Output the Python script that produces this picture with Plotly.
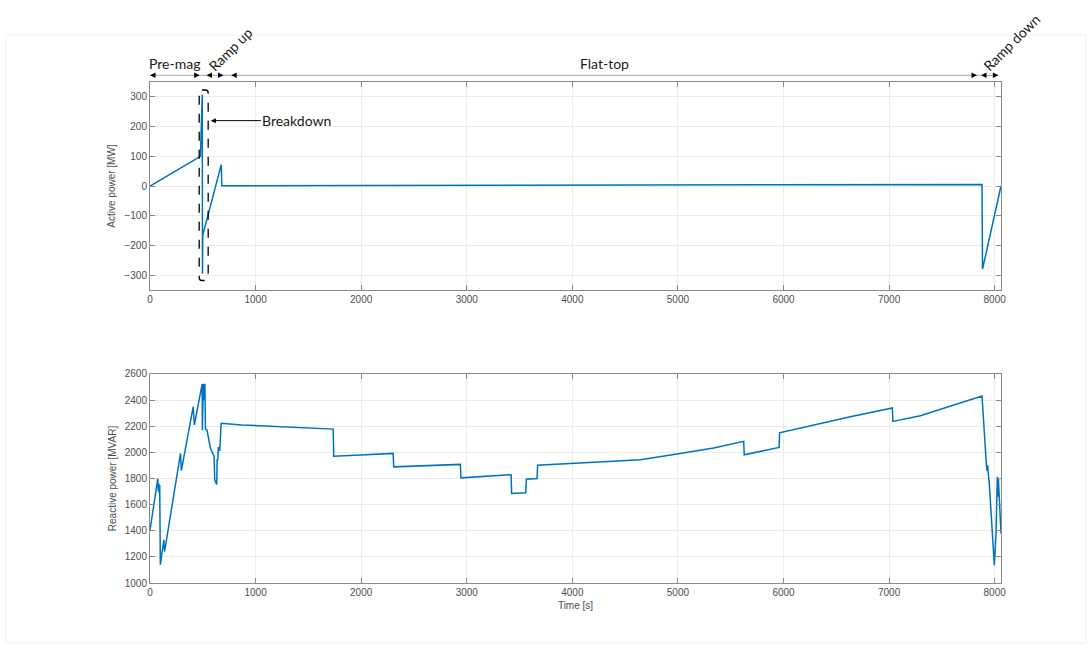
import plotly.graph_objects as go

# ---------------- data ----------------
# Active power (top panel)
t_p = [0, 478, 495, 497, 500, 675, 680, 2000, 4000, 6000, 7880, 7885, 8060]
p_mw = [0, 100, 307, -295, -165, 72, 1, 2, 3, 4, 5, -280, 0]

# Reactive power (bottom panel)
t_q = [0, 74, 79, 84, 88, 92, 98, 131, 138, 188, 289, 297, 409, 420, 494, 496,
       505, 510, 520, 525, 540, 573, 607, 613, 632, 636, 642, 647, 660, 674,
       871, 1735, 1740, 1993, 2303, 2308, 2940, 2945, 3224, 3420, 3425, 3559,
       3564, 3666, 3671, 4171, 4645, 4992, 5339, 5623, 5628, 5958, 5963, 6633,
       7031, 7036, 7296, 7880, 7896, 7921, 7927, 7933, 7950, 7997, 8013, 8025,
       8030, 8035, 8060]
q_mvar = [1404, 1800, 1700, 1760, 1690, 1750, 1140, 1330, 1240, 1480, 1992, 1860,
          2349, 2210, 2523, 2170, 2525, 2400, 2525, 2180, 2170, 2030, 1970, 1790,
          1755, 1950, 1940, 2040, 2010, 2222, 2210, 2178, 1971, 1979, 1992, 1889,
          1908, 1805, 1818, 1829, 1686, 1691, 1795, 1800, 1902, 1923, 1943, 1987,
          2033, 2084, 1981, 2038, 2150, 2273, 2340, 2237, 2280, 2431, 2196, 1915,
          1860, 1900, 1749, 1136, 1379, 1813, 1660, 1800, 1379]

# Phases of the pulse
phase_names = ["Pre-mag", "Ramp up", "Flat-top", "Ramp down"]
phase_start = [0, 536, 769, 7871]
phase_end = [470, 696, 7833, 8035]
phase_rotated = [False, True, False, True]

# Breakdown window
bd_t0, bd_t1 = 466, 551
bd_p0, bd_p1 = -318, 323
bd_label_y = 220

x_ticks = [0, 1000, 2000, 3000, 4000, 5000, 6000, 7000, 8000]
p_ticks = [-300, -200, -100, 0, 100, 200, 300]
q_ticks = [1000, 1200, 1400, 1600, 1800, 2000, 2200, 2400, 2600]

# ---------------- style ----------------
LINE = "#0072BD"
AX = "#8a8a8a"
GRID = "#ebebeb"
TICKFONT = dict(family="Liberation Sans, Arial, sans-serif", size=10, color="#4d4d4d")
TITLEFONT = dict(family="Liberation Sans, Arial, sans-serif", size=10, color="#4d4d4d")
ANNFONT = dict(family="Lato, Open Sans, sans-serif", size=14, color="#1a1a1a")

fig = go.Figure()
fig.add_trace(go.Scatter(x=t_p, y=p_mw, mode="lines", line=dict(color=LINE, width=1.5),
                         xaxis="x", yaxis="y", showlegend=False, hoverinfo="skip"))
fig.add_trace(go.Scatter(x=t_q, y=q_mvar, mode="lines", line=dict(color=LINE, width=1.5),
                         xaxis="x2", yaxis="y2", showlegend=False, hoverinfo="skip"))

axis_common = dict(showline=True, linecolor=AX, linewidth=1, mirror="ticks",
                   ticks="inside", ticklen=5, tickcolor=AX, showgrid=True,
                   gridcolor=GRID, gridwidth=1, zeroline=False, tickfont=TICKFONT)

top_dom = [0.5848, 1.0]
bot_dom = [0.0, 0.4172]

fig.update_layout(
    width=1092, height=649,
    margin=dict(l=150, r=91, t=82, b=66),
    paper_bgcolor="white", plot_bgcolor="white",
    xaxis=dict(range=[0, 8060], tickvals=x_ticks, anchor="y", domain=[0, 1], **axis_common),
    yaxis=dict(range=[-350, 350], tickvals=p_ticks, domain=top_dom, anchor="x",
               title=dict(text="Active power [MW]", font=TITLEFONT, standoff=6),
               **axis_common),
    xaxis2=dict(range=[0, 8060], tickvals=x_ticks, anchor="y2", domain=[0, 1],
                title=dict(text="Time [s]", font=TITLEFONT, standoff=4),
                **axis_common),
    yaxis2=dict(range=[1000, 2600], tickvals=q_ticks, domain=bot_dom, anchor="x2",
                title=dict(text="Reactive power [MVAR]", font=TITLEFONT, standoff=6),
                **axis_common),
)

row_y = 1.032  # phase arrow row, in fractions of the top panel height

shapes = []
# faint outer frame
shapes.append(dict(type="rect", xref="paper", yref="paper",
                   x0=(6 - 150) / 851, x1=(1086 - 150) / 851,
                   y0=(583 - 643) / 501, y1=(583 - 35) / 501,
                   line=dict(color="#f0f0f0", width=1), layer="below"))
# thin phase line
shapes.append(dict(type="line", xref="x", yref="y domain", x0=phase_start[0], x1=phase_end[-1],
                   y0=row_y, y1=row_y, line=dict(color="#a6a6a6", width=1)))
# breakdown dashed rounded box
rx, ry = 25, 10
x0, x1, y0, y1 = bd_t0, bd_t1, bd_p0, bd_p1
path = (f"M {x0+rx},{y1} L {x1-rx},{y1} Q {x1},{y1} {x1},{y1-ry} "
        f"L {x1},{y0+ry} Q {x1},{y0} {x1-rx},{y0} L {x0+rx},{y0} "
        f"Q {x0},{y0} {x0},{y0+ry} L {x0},{y1-ry} Q {x0},{y1} {x0+rx},{y1} Z")
shapes.append(dict(type="path", xref="x", yref="y", path=path,
                   line=dict(color="black", width=1.3, dash="dash")))
fig.update_layout(shapes=shapes)

anns = []
# short black arrowheads marking each phase boundary
for s, e in zip(phase_start, phase_end):
    for xb, off in ((s, 6), (e, -6)):
        anns.append(dict(x=xb, y=row_y, xref="x", yref="y domain", text="",
                         showarrow=True, ax=off, ay=0, axref="pixel", ayref="pixel",
                         arrowhead=2, arrowsize=1.1, arrowwidth=1, arrowcolor="black",
                         standoff=0, startstandoff=0))
for name, s, e, rot in zip(phase_names, phase_start, phase_end, phase_rotated):
    mid = (s + e) / 2
    if rot:
        anns.append(dict(x=mid, y=1.0, xref="x", yref="y domain", text=name,
                         showarrow=False, textangle=-45, font=ANNFONT,
                         xanchor="left", yanchor="bottom", xshift=-13, yshift=5))
    else:
        anns.append(dict(x=mid, y=row_y, xref="x", yref="y domain", text=name,
                         showarrow=False, font=ANNFONT, yanchor="bottom", yshift=1))
# breakdown label
anns.append(dict(x=bd_t1 + 25, y=bd_label_y, xref="x", yref="y", text="Breakdown",
                 showarrow=True, ax=86, ay=0, axref="pixel", ayref="pixel",
                 arrowhead=2, arrowsize=1, arrowwidth=1, arrowcolor="black",
                 font=ANNFONT, standoff=0))
fig.update_layout(annotations=anns)

fig.write_html("out.html")
